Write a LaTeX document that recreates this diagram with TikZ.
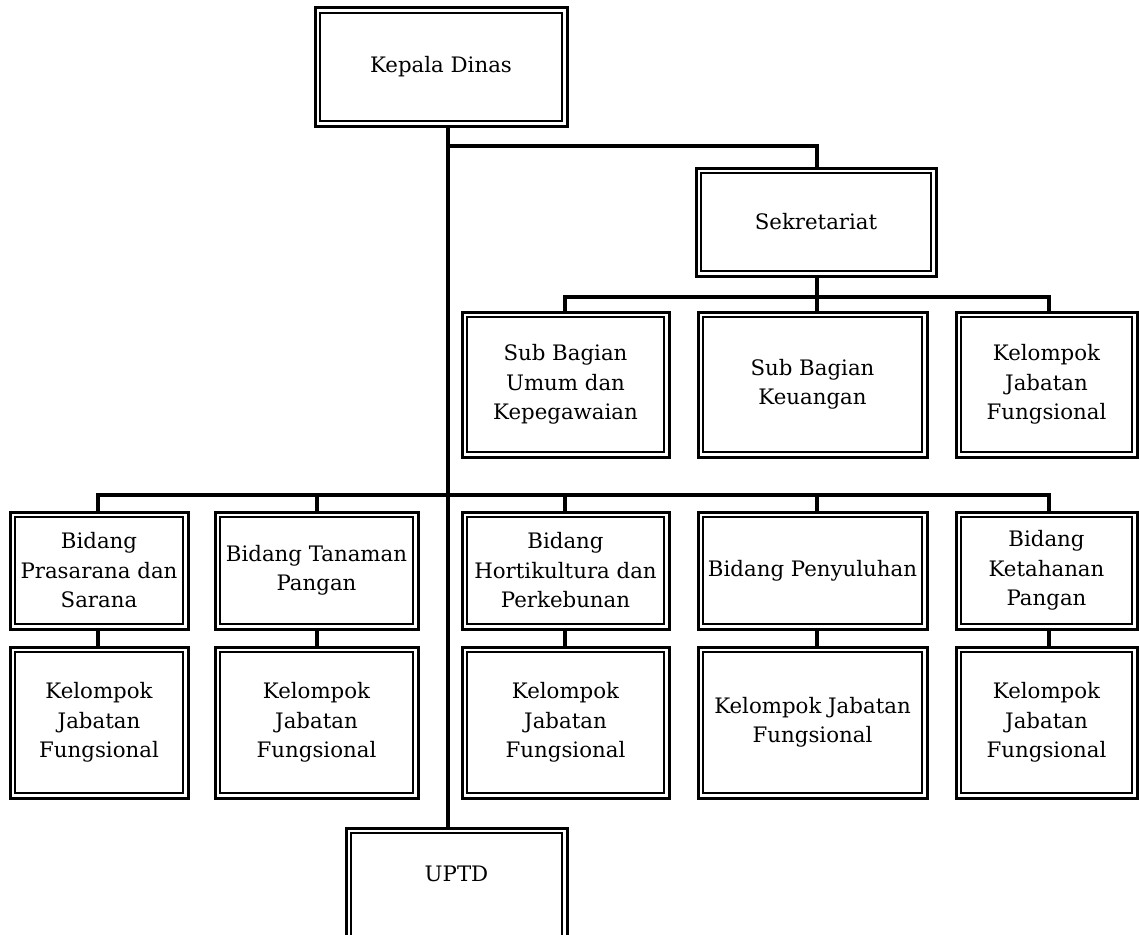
\documentclass[tikz,border=0pt]{standalone}
\usepackage{fontspec}
\setmainfont{DejaVu Serif}
\begin{document}
\begin{tikzpicture}[x=1pt,y=-1pt,
  box/.style={draw, line width=3pt, inner sep=0pt, outer sep=0pt, align=center,
    font=\fontsize{21.3}{29.5}\selectfont},
  txt/.style={inner sep=0pt, align=center, font=\fontsize{21.3}{29.5}\selectfont},
  frame/.style={line width=1.7pt},
  conn/.style={line width=4.6pt, line join=miter}]
\newcommand\innerframe[1]{\draw[frame] ([shift={(5,5)}]#1.north west) rectangle ([shift={(-5,-5)}]#1.south east);}
\useasboundingbox (0,0) rectangle (1139,934);
\clip (0,0) rectangle (1139,934);

% top level
\node[box, minimum width=252pt, minimum height=118pt] (kepala) at (441,67) {Kepala Dinas};
\node[box, minimum width=240pt, minimum height=108pt] (sek) at (816,222) {Sekretariat};

% secretariat sub units
\node[box, minimum width=207pt, minimum height=145pt] (s1) at (565.5,384.5) {Sub Bagian\\Umum dan\\Kepegawaian};
\node[box, minimum width=229pt, minimum height=145pt] (s2) at (812.5,384.5) {Sub Bagian\\Keuangan};
\node[box, minimum width=181pt, minimum height=145pt] (s3) at (1046.5,384.5) {Kelompok\\Jabatan\\Fungsional};

% divisions
\node[box, minimum width=178pt, minimum height=117pt] (b1) at (99,570.5) {Bidang\\Prasarana dan\\Sarana};
\node[box, minimum width=203pt, minimum height=117pt] (b2) at (316.5,570.5) {Bidang Tanaman\\Pangan};
\node[box, minimum width=207pt, minimum height=117pt] (b3) at (565.5,570.5) {Bidang\\Hortikultura dan\\Perkebunan};
\node[box, minimum width=229pt, minimum height=117pt] (b4) at (812.5,570.5) {Bidang Penyuluhan};
\node[box, minimum width=181pt, minimum height=117pt] (b5) at (1046.5,570.5) {Bidang\\Ketahanan\\Pangan};

% functional groups under each division
\node[box, minimum width=178pt, minimum height=151pt] (k1) at (99,722.5) {Kelompok\\Jabatan\\Fungsional};
\node[box, minimum width=203pt, minimum height=151pt] (k2) at (316.5,722.5) {Kelompok\\Jabatan\\Fungsional};
\node[box, minimum width=207pt, minimum height=151pt] (k3) at (565.5,722.5) {Kelompok\\Jabatan\\Fungsional};
\node[box, minimum width=229pt, minimum height=151pt] (k4) at (812.5,722.5) {Kelompok Jabatan\\Fungsional};
\node[box, minimum width=181pt, minimum height=151pt] (k5) at (1046.5,722.5) {Kelompok\\Jabatan\\Fungsional};

% technical unit (runs past the lower edge)
\node[box, minimum width=221pt, minimum height=132pt] (uptd) at (456.5,894) {};
\node[txt] (uptdtext) at (456.5,874) {UPTD};

\foreach \n in {kepala,sek,s1,s2,s3,b1,b2,b3,b4,b5,k1,k2,k3,k4,k5,uptd}{\innerframe{\n}}

% junction points
\coordinate (tr) at (448,0);
\coordinate (jSek) at (448,146);
\coordinate (kSek) at (817,146);
\coordinate (sL) at (565,297);
\coordinate (sM) at (817,297);
\coordinate (sR) at (1049,297);
\coordinate (bA) at (98,495);
\coordinate (bB) at (317,495);
\coordinate (bC) at (565,495);
\coordinate (bD) at (817,495);
\coordinate (bE) at (1049,495);

% connectors
\draw[conn] (kepala.south -| tr) -- (uptd.north -| tr);
\draw[conn] (jSek) -- (kSek) -- (kSek |- sek.north);
\draw[conn] (sek.south -| sM) -- (sM |- s2.north);
\draw[conn] (sL |- s1.north) -- (sL) -- (sR) -- (sR |- s3.north);
\draw[conn] (bA |- b1.north) -- (bA) -- (bE) -- (bE |- b5.north);
\draw[conn] (bB) -- (bB |- b2.north);
\draw[conn] (bC) -- (bC |- b3.north);
\draw[conn] (bD) -- (bD |- b4.north);
\draw[conn] (bA |- b1.south) -- (bA |- k1.north);
\draw[conn] (bB |- b2.south) -- (bB |- k2.north);
\draw[conn] (bC |- b3.south) -- (bC |- k3.north);
\draw[conn] (bD |- b4.south) -- (bD |- k4.north);
\draw[conn] (bE |- b5.south) -- (bE |- k5.north);
\end{tikzpicture}
\end{document}
